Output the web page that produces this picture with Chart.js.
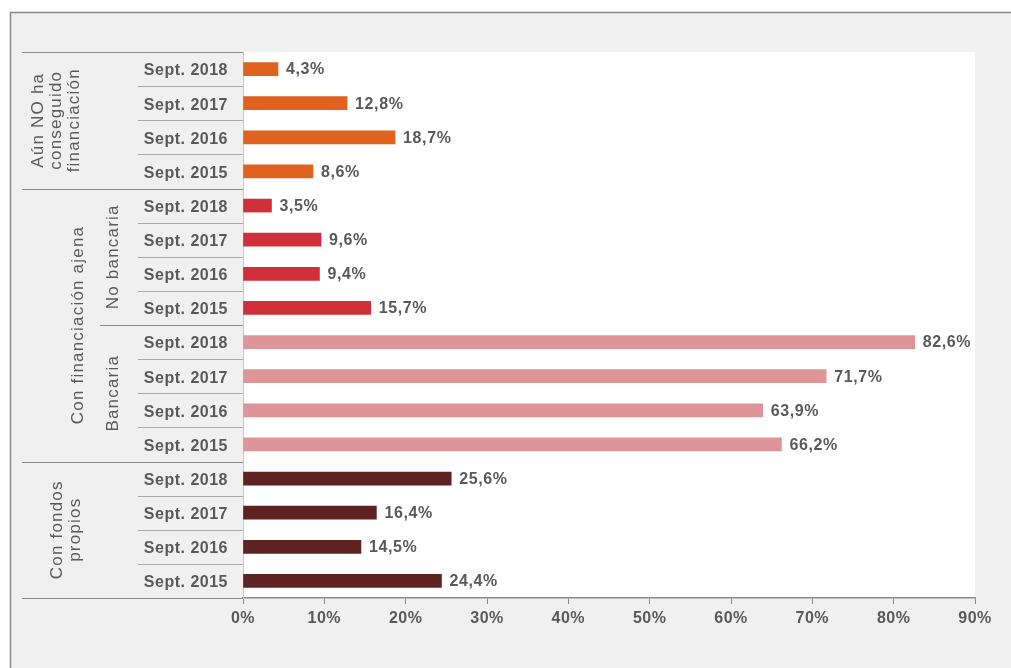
<!DOCTYPE html>
<html>
<head>
<meta charset="utf-8">
<script src="https://cdn.jsdelivr.net/npm/chart.js@4.4.0/dist/chart.umd.min.js"></script>
<style>
  html, body { margin: 0; padding: 0; background: #ffffff; }
  #wrap { width: 1011px; height: 668px; position: relative; }
</style>
</head>
<body>
<div id="wrap"><canvas id="chart" width="1011" height="668"></canvas></div>
<script>
// data (top to bottom)
const dateLabels = ['Sept. 2018', 'Sept. 2017', 'Sept. 2016', 'Sept. 2015'];
const sinFinanciacion = [4.3, 12.8, 18.7, 8.6];
const noBancaria = [3.5, 9.6, 9.4, 15.7];
const bancaria = [82.6, 71.7, 63.9, 66.2];
const fondosPropios = [25.6, 16.4, 14.5, 24.4];
const groupColors = ['#e0621f', '#d0303a', '#de9597', '#5e2221'];
const xMax = 90;
const xStep = 10;

const labels = [].concat(dateLabels, dateLabels, dateLabels, dateLabels);
const values = [].concat(sinFinanciacion, noBancaria, bancaria, fondosPropios);
const colors = [];
groupColors.forEach(c => dateLabels.forEach(() => colors.push(c)));

const FONT = '"Liberation Sans", Arial, sans-serif';
const TEXT = '#595959';

// group labels on the left: rows are index ranges
const groups = [
    { lines: ['Aún NO ha', 'conseguido', 'financiación'], from: 0, to: 3, x: 56, lineLeft: 22 },
    { lines: ['Con financiación ajena'], from: 4, to: 11, x: 78, lineLeft: 22 },
    { lines: ['No bancaria'], from: 4, to: 7, x: 113, lineLeft: null },
    { lines: ['Bancaria'], from: 8, to: 11, x: 113, lineLeft: 100 },
    { lines: ['Con fondos', 'propios'], from: 12, to: 15, x: 66, lineLeft: 22 }
];

const framePlugin = {
    id: 'frame',
    beforeDraw(chart) {
        const ctx = chart.ctx;
        const a = chart.chartArea;
        ctx.save();
        ctx.fillStyle = '#ffffff';
        ctx.fillRect(0, 0, chart.width, chart.height);
        ctx.fillStyle = '#f0f0f0';
        ctx.fillRect(10, 12, chart.width - 10, chart.height - 12);
        ctx.strokeStyle = '#8a8a8a';
        ctx.lineWidth = 1.5;
        ctx.beginPath();
        ctx.moveTo(10.5, chart.height);
        ctx.lineTo(10.5, 12.5);
        ctx.lineTo(chart.width, 12.5);
        ctx.stroke();
        ctx.fillStyle = '#ffffff';
        ctx.fillRect(a.left, a.top, a.right - a.left, a.bottom - a.top);
        ctx.restore();
        // the reference text is a bit spaced out
        ctx.letterSpacing = '0.5px';
    },
    afterDraw(chart) {
        const ctx = chart.ctx;
        const y = chart.scales.y;
        const a = chart.chartArea;
        const half = (y.getPixelForValue(1) - y.getPixelForValue(0)) / 2;
        ctx.save();
        // row separators next to the date labels
        ctx.strokeStyle = '#a8a8a8';
        ctx.lineWidth = 1;
        for (let i = 1; i < labels.length; i++) {
            const py = Math.round(y.getPixelForValue(i) - half) + 0.5;
            ctx.beginPath();
            ctx.moveTo(138, py);
            ctx.lineTo(a.left, py);
            ctx.stroke();
        }
        // group separators
        ctx.strokeStyle = '#8a8a8a';
        groups.forEach(g => {
            if (g.lineLeft === null) return;
            [g.from, g.to + 1].forEach(idx => {
                const py = Math.round(y.getPixelForValue(idx) - half) + 0.5;
                ctx.beginPath();
                ctx.moveTo(g.lineLeft, py);
                ctx.lineTo(a.left, py);
                ctx.stroke();
            });
        });
        // rotated group labels
        ctx.fillStyle = TEXT;
        ctx.font = '17px ' + FONT;
        ctx.letterSpacing = '1.2px';
        ctx.textAlign = 'center';
        ctx.textBaseline = 'middle';
        groups.forEach(g => {
            const cy = (y.getPixelForValue(g.from) + y.getPixelForValue(g.to)) / 2;
            const lh = 18;
            g.lines.forEach((line, i) => {
                const cx = g.x + (i - (g.lines.length - 1) / 2) * lh;
                ctx.save();
                ctx.translate(cx, cy);
                ctx.rotate(-Math.PI / 2);
                ctx.fillText(line, 0, 0);
                ctx.restore();
            });
        });
        ctx.restore();
    }
};

const valueLabels = {
    id: 'valueLabels',
    afterDatasetsDraw(chart) {
        const ctx = chart.ctx;
        const meta = chart.getDatasetMeta(0);
        ctx.save();
        ctx.fillStyle = TEXT;
        ctx.font = 'bold 16px ' + FONT;
        ctx.letterSpacing = '0.6px';
        ctx.textAlign = 'left';
        ctx.textBaseline = 'middle';
        meta.data.forEach((bar, i) => {
            const txt = values[i].toFixed(1).replace('.', ',') + '%';
            ctx.fillText(txt, bar.x + 8, bar.y + 1);
        });
        ctx.restore();
    }
};

new Chart(document.getElementById('chart'), {
    type: 'bar',
    data: {
        labels: labels,
        datasets: [{
            data: values,
            backgroundColor: colors,
            borderWidth: 0,
            barThickness: 13
        }]
    },
    options: {
        indexAxis: 'y',
        responsive: false,
        animation: false,
        events: [],
        layout: { padding: { top: 52, right: 36, left: 0, bottom: 0 } },
        plugins: {
            legend: { display: false },
            tooltip: { enabled: false }
        },
        scales: {
            x: {
                min: 0,
                max: xMax,
                afterFit: s => { s.height = 70; },
                ticks: {
                    stepSize: xStep,
                    padding: 5,
                    color: TEXT,
                    font: { family: FONT, size: 16, weight: 'bold' },
                    callback: v => v + '%'
                },
                grid: { drawOnChartArea: false, drawTicks: true, tickLength: 6, color: '#8a8a8a' },
                border: { color: '#8a8a8a', width: 1.5 }
            },
            y: {
                afterFit: s => { s.width = 243; },
                ticks: {
                    padding: 15,
                    labelOffset: 2,
                    color: TEXT,
                    font: { family: FONT, size: 16, weight: 'bold' }
                },
                grid: { display: false, drawTicks: false },
                border: { color: '#c8c8c8', width: 1 }
            }
        }
    },
    plugins: [framePlugin, valueLabels]
});
</script>
</body>
</html>
